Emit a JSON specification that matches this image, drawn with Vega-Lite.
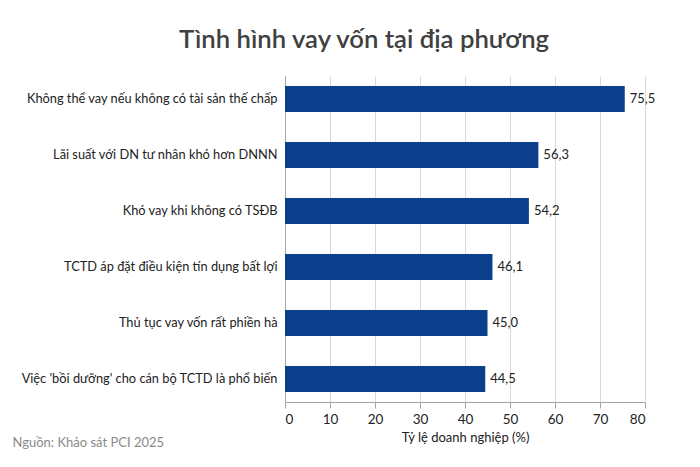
{
  "$schema": "https://vega.github.io/schema/vega-lite/v6.json",
  "width": 360,
  "height": 326,
  "padding": {"left": 12, "top": 27, "right": 5, "bottom": 5},
  "background": "white",
  "title": {
    "text": "Tình hình vay vốn tại địa phương",
    "anchor": "middle",
    "frame": "group",
    "dx": -101,
    "offset": 22,
    "font": "Lato",
    "fontSize": 25.7,
    "fontWeight": 600,
    "color": "#404040"
  },
  "data": {
    "values": [
      {"item": "Không thể vay nếu không có tài sản thế chấp", "pct": 75.5},
      {"item": "Lãi suất với DN tư nhân khó hơn DNNN", "pct": 56.3},
      {"item": "Khó vay khi không có TSĐB", "pct": 54.2},
      {"item": "TCTD áp đặt điều kiện tín dụng bất lợi", "pct": 46.1},
      {"item": "Thủ tục vay vốn rất phiền hà", "pct": 45.0},
      {"item": "Việc 'bồi dưỡng' cho cán bộ TCTD là phổ biến", "pct": 44.5}
    ]
  },
  "encoding": {
    "y": {
      "field": "item",
      "type": "nominal",
      "sort": null,
      "scale": {"paddingInner": 0.536, "paddingOuter": 0.18},
      "axis": {
        "title": "Nguồn: Khảo sát PCI 2025",
        "titleAngle": 0,
        "titleX": -273,
        "titleY": 366,
        "titleAlign": "left",
        "titleBaseline": "middle",
        "titleFont": "Lato",
        "titleFontSize": 13,
        "titleFontWeight": "normal",
        "titleColor": "#8a8a8a",
        "ticks": false,
        "labelPadding": 8,
        "labelFont": "Lato",
        "labelFontSize": 12.8,
        "labelColor": "#222222",
        "domainColor": "#a6a6a6",
        "labelLimit": 300
      }
    },
    "x": {
      "field": "pct",
      "type": "quantitative",
      "scale": {"domain": [0, 80]},
      "axis": {
        "title": "Tỷ lệ doanh nghiệp (%)",
        "titleFont": "Lato",
        "titleFontSize": 13,
        "titleFontWeight": "normal",
        "titleColor": "#222222",
        "titlePadding": 6,
        "values": [0, 10, 20, 30, 40, 50, 60, 70, 80],
        "labelFont": "Lato",
        "labelFontSize": 13.5,
        "labelColor": "#222222",
        "labelPadding": 4,
        "domainColor": "#a6a6a6",
        "tickColor": "#a6a6a6",
        "tickSize": 6,
        "gridColor": "#d9d9d9"
      }
    }
  },
  "layer": [
    {
      "mark": {"type": "bar", "color": "#0b3f8c"}
    },
    {
      "mark": {
        "type": "text",
        "align": "left",
        "baseline": "middle",
        "dx": 5,
        "font": "Lato",
        "fontSize": 13,
        "color": "#222222"
      },
      "encoding": {"text": {"field": "pct", "type": "quantitative", "format": ".1f"}}
    }
  ],
  "config": {
    "view": {"stroke": null},
    "locale": {
      "number": {"decimal": ",", "thousands": ".", "grouping": [3], "currency": ["", ""]}
    }
  }
}
